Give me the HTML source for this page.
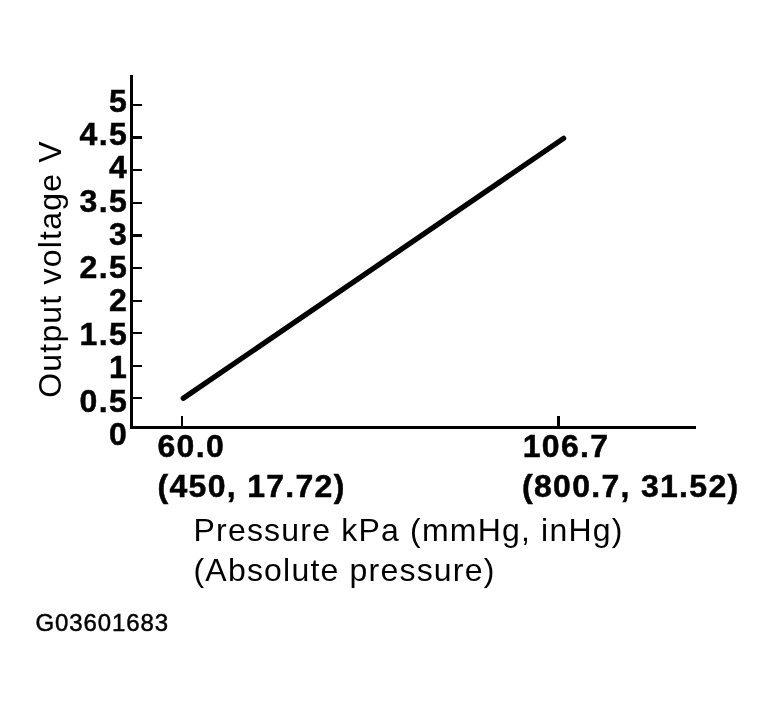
<!DOCTYPE html>
<html>
<head>
<meta charset="utf-8">
<title>Output voltage vs Pressure</title>
<style>
html,body{margin:0;padding:0;background:#fff;}
body{width:774px;height:707px;overflow:hidden;position:relative;font-family:"Liberation Sans",sans-serif;color:#000;}
svg{position:absolute;left:0;top:0;display:block;}
text{font-family:"Liberation Sans",sans-serif;fill:#000;}
.b{font-weight:bold;font-size:32px;letter-spacing:1.3px;stroke:#000;stroke-width:0.5px;}
.r{font-size:32px;letter-spacing:1.2px;}
.s{font-size:24px;letter-spacing:0.9px;stroke:#000;stroke-width:0.5px;}
</style>
</head>
<body>
<svg width="774" height="707" viewBox="0 0 774 707">
<rect width="774" height="707" fill="#fff"/>
<!-- axes -->
<rect x="130" y="75" width="3" height="354" fill="#000"/>
<rect x="130" y="426" width="566" height="3" fill="#000"/>
<!-- y ticks -->
<g fill="#000">
<rect x="133" y="104" width="9" height="2"/>
<rect x="133" y="136" width="9" height="3"/>
<rect x="133" y="169" width="9" height="2"/>
<rect x="133" y="202" width="9" height="2"/>
<rect x="133" y="234" width="9" height="3"/>
<rect x="133" y="267" width="9" height="2"/>
<rect x="133" y="300" width="9" height="2"/>
<rect x="133" y="332" width="9" height="2"/>
<rect x="133" y="365" width="9" height="2"/>
<rect x="133" y="397" width="9" height="2"/>
<rect x="181" y="416" width="2" height="11"/>
<rect x="557" y="416" width="3" height="11"/>
</g>
<line x1="183.3" y1="398.3" x2="563.6" y2="138.4" stroke="#000" stroke-width="5.3" stroke-linecap="round"/>
<g class="b" text-anchor="end">
<text x="128" y="111.7">5</text>
<text x="128" y="145">4.5</text>
<text x="128" y="178.3">4</text>
<text x="128" y="211.6">3.5</text>
<text x="128" y="244.9">3</text>
<text x="128" y="278.2">2.5</text>
<text x="128" y="311.3">2</text>
<text x="128" y="344.7">1.5</text>
<text x="128" y="378">1</text>
<text x="128" y="411.5">0.5</text>
<text x="128" y="445">0</text>
</g>
<g class="b">
<text x="157.5" y="457">60.0</text>
<text x="157.5" y="496.5">(450, 17.72)</text>
<text x="522.7" y="457">106.7</text>
<text x="522" y="496.5">(800.7, 31.52)</text>
</g>
<g class="r">
<text x="193.5" y="541">Pressure kPa (mmHg, inHg)</text>
<text x="193.5" y="581">(Absolute pressure)</text>
<text transform="translate(60.5,397.8) rotate(-90)">Output voltage V</text>
</g>
<text class="s" x="35.5" y="631">G03601683</text>
</svg>
</body>
</html>
